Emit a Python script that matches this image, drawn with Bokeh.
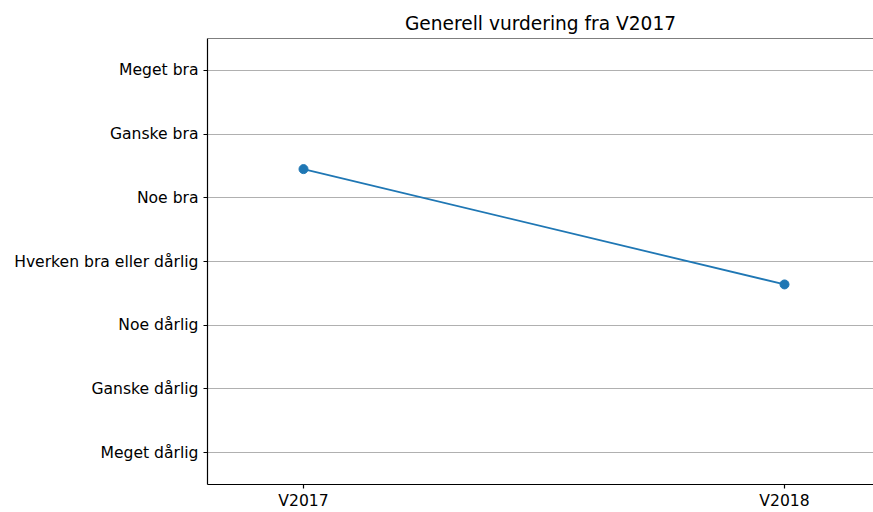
from bokeh.plotting import figure
from bokeh.models import FixedTicker, Span, Range1d, ColumnDataSource
from bokeh.embed import file_html
from bokeh.resources import INLINE

semesters = ["V2017", "V2018"]
scores = [5.45, 3.64]
levels = ["Meget dårlig", "Ganske dårlig", "Noe dårlig", "Hverken bra eller dårlig",
          "Noe bra", "Ganske bra", "Meget bra"]

xs = list(range(len(semesters)))
src = ColumnDataSource(dict(x=xs, y=scores))

p = figure(width=873, height=512, output_backend="svg", toolbar_location=None,
           x_range=Range1d(-0.1996, 1.185), y_range=Range1d(0.5, 7.5),
           title="Generell vurdering fra V2017",
           min_border_left=207, min_border_top=38, min_border_bottom=25, min_border_right=0)
p.title.align = "center"
p.title.text_font = "DejaVu Sans"
p.title.text_font_size = "18.6px"
p.title.text_font_style = "normal"
p.title.text_color = "black"

p.line("x", "y", source=src, line_color="#1f77b4", line_width=1.8)
p.scatter("x", "y", source=src, size=9, fill_color="#1f77b4", line_color="#1f77b4")

p.outline_line_color = None
p.add_layout(Span(location=7.5, dimension="width", line_color="black", line_width=1.2))

p.xaxis.ticker = FixedTicker(ticks=xs)
p.xaxis.major_label_overrides = {i: s for i, s in enumerate(semesters)}
p.yaxis.ticker = FixedTicker(ticks=list(range(1, 8)))
p.yaxis.major_label_overrides = {i + 1: s for i, s in enumerate(levels)}
for ax in (p.xaxis, p.yaxis):
    ax.axis_line_color = "black"
    ax.axis_line_width = 1.2
    ax.major_tick_line_color = "black"
    ax.major_tick_line_width = 1.2
    ax.major_tick_in = 0
    ax.major_tick_out = 4
    ax.minor_tick_line_color = None
    ax.major_label_text_font = "DejaVu Sans"
    ax.major_label_text_font_size = "15.6px"
    ax.major_label_text_color = "black"
    ax.major_label_standoff = 5
p.xaxis.major_label_standoff = 3
p.xaxis.major_label_text_line_height = 0.6

p.xgrid.grid_line_color = None
p.ygrid.grid_line_color = "#b0b0b0"
p.ygrid.grid_line_width = 1.2
p.background_fill_color = "white"
p.border_fill_color = "white"

open("out.html", "w").write(file_html(p, INLINE))
